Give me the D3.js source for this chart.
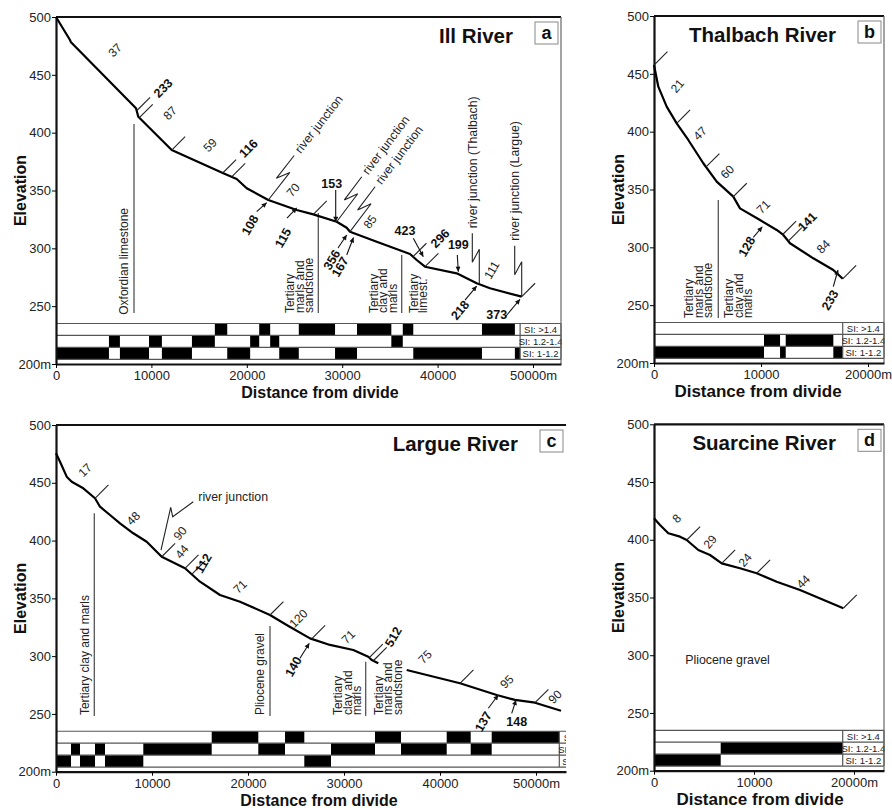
<!DOCTYPE html>
<html><head><meta charset="utf-8">
<script src="https://cdn.jsdelivr.net/npm/d3@7"></script>
<style>
body{margin:0;background:#fff;}
svg{display:block;}
</style></head><body>
<svg id="chart" width="892" height="808"></svg>
<script>
// ================= DATA =================
const yTicks = [200, 250, 300, 350, 400, 450, 500];
const siLabels = ["SI: 1-1.2", "SI: 1.2-1.4", "SI: >1.4"];
const siRowEdges = [235, 224.67, 214.33, 204];

// ---- Panel a : Ill River ----
const xTicksA = [0, 10000, 20000, 30000, 40000, 50000];
const profileA_dist = [0,1468,1572,8386,8627,12128,17537,18941,19990,22254,25231,26971,29423,30472,30818,33616,37107,37809,38679,42002,44099,45493,48816];
const profileA_elev = [500,480.1,478.1,421.1,413.8,385.0,364.9,359.9,351.9,341.8,333.1,329.4,323.0,317.8,314.4,305.7,295.1,289.9,284.1,278.4,269.8,265.5,258.2];
const siA_breaks = [0,5550,6700,9750,11100,14250,16650,17950,20350,21300,22450,23400,25450,29250,31550,35150,36350,37450,44650,48100,48650];
const siA_class  = [1,2,1,2,1,2,3,1,2,3,2,1,3,1,3,2,3,1,3,1];
const ticksA = [8457, 8732, 12128, 17474, 18417, 26971, 37421, 38679, 48816];
const segA = [
  {t:"37", d:6184, e:471.5, r:-45}, {t:"87", d:11950, e:417, r:-45}, {t:"59", d:16143, e:389.3, r:-45},
  {t:"70", d:24843, e:350.4, r:-50}, {t:"85", d:32914, e:323, r:-55}, {t:"111", d:45671, e:281.3, r:-60}];
const knickA = [
  {t:"233", d:11216, e:438.6, r:-45}, {t:"116", d:20161, e:386.5, r:-45}, {t:"108", d:20335, e:320.2, r:-60},
  {t:"115", d:23795, e:309.1, r:-60}, {t:"153", d:28899, e:355.6, r:0}, {t:"356", d:28899, e:290, r:-60},
  {t:"167", d:29769, e:284.1, r:-60}, {t:"423", d:36583, e:315.2, r:0}, {t:"296", d:40252, e:308.7, r:-45},
  {t:"199", d:42170, e:303, r:0}, {t:"218", d:42348, e:246.7, r:-50}, {t:"373", d:46195, e:242.4, r:0}];
const arrowsA = [
  [21038,331.7,22086,339.5],[24214,326.2,25231,334.9],[29319,350.4,29319,323],[29560,300.3,30472,311.5],
  [30472,294.2,31184,309.4],[37453,308.7,38501,292.8],[42065,294.2,42170,279.8],[42872,255.3,44099,267.4],
  [47065,240.4,48637,256]];
const junctionsA = [
  {d:22254, ang:-52, t:"river junction"}, {d:29423, ang:-53, t:"river junction"},
  {d:30818, ang:-53, t:"river junction"}, {d:44371, ang:-90, t:"river junction (Thalbach)"},
  {d:48816, ang:-90, t:"river junction (Largue)"}];
const geoLinesA = [{d:8176, e1:407.5, e2:244.1}, {d:27495, e1:330.6, e2:244.1}, {d:36237, e1:294.2, e2:244.1}];
const geoLabelsA = [
  {lines:["Oxfordian limestone"], d:7128, e:242.6}, {lines:["Tertiary","marls and","sandstone"], d:24528, e:244},
  {lines:["Tertiary","clay and","marls"], d:33260, e:244}, {lines:["Tertiary","limest."], d:37453, e:244}];

// ---- Panel b : Thalbach River ----
const xTicksB = [0, 10000, 20000];
const profileB_dist = [0,402,1187,2121,3206,4607,5860,7411,8037,9907,11467,12084,12710,14888,16757,17636];
const profileB_elev = [457.6,438.9,421.6,407.2,392.8,372.7,356.8,343.8,333.7,323.6,315.0,310.7,303.5,290.5,280.4,272.8];
const siB_breaks = [0,10280,11780,12310,16760,17636];
const siB_class  = [1,2,1,2,1];
const ticksB = [0, 2121, 4860, 7411, 12028, 12551, 17636];
const segB = [
  {t:"21", d:2178, e:439.5, r:-50}, {t:"47", d:4299, e:398.6, r:-45}, {t:"60", d:6850, e:365.4, r:-45},
  {t:"71", d:10215, e:335.1, r:-45}, {t:"84", d:15822, e:300.6, r:-45}];
const knickB = [{t:"141", d:14327, e:322.2, r:-45}, {t:"128", d:8664, e:300.6, r:-60}, {t:"233", d:16449, e:254.5, r:-60}];
const arrowsB = [[9280,308.7,10121,317.8],[16757,266,17196,280.4]];
const geoLinesB = [{d:6009, e1:340.9, e2:238.8}];
const geoLabelsB = [{lines:["Tertiary","marls and","sandstone"], d:3271, e:238.8}, {lines:["Tertiary","clay and","marls"], d:7009, e:238.8}];

// ---- Panel c : Largue River ----
const xTicksC = [0, 10000, 20000, 30000, 40000, 50000];
const profileC_dist = [0,417,1115,1635,2844,4063,4583,5625,6667,8052,9448,10490,11010,13438,15000,17083,19167,22292,24031,26458,28542,30969,32531,32885,33573,35000,36531,42083,45906,47813,49896,52604];
const profileC_elev = [475.5,468.2,455.3,450.9,445.2,436.6,429.3,422.1,414.9,406.3,399.0,390.4,386.0,376.0,364.4,352.9,347.1,335.6,327.0,315.4,309.7,305.3,299.5,296.7,293.8,null,288.0,276.5,266.4,262.1,259.7,252.8];
const siC_breaks = [0,1563,2500,4063,5104,9094,16219,21073,23854,25865,28646,33229,35937,40698,43198,45385,52427];
const siC_class  = [1,2,1,2,1,2,3,2,3,1,2,3,2,3,2,3];
const ticksC = [4063, 11010, 13438, 14135, 22292, 26635, 32635, 33052, 42083, 49896];
const segC = [
  {t:"17", d:3021, e:461.1, r:-45}, {t:"48", d:8052, e:419.3, r:-45}, {t:"90", d:12917, e:406.3, r:-50},
  {t:"44", d:13094, e:390.4, r:-50}, {t:"71", d:19167, e:360.1, r:-45}, {t:"120", d:25240, e:332.7, r:-45},
  {t:"71", d:30448, e:316.8, r:-45}, {t:"75", d:38438, e:299.5, r:-45}, {t:"95", d:46948, e:277.9, r:-45},
  {t:"90", d:51979, e:264.9, r:-45}];
const knickC = [
  {t:"112", d:15344, e:380.3, r:-60}, {t:"512", d:35135, e:316.8, r:-60}, {t:"140", d:24719, e:290.9, r:-60},
  {t:"137", d:44510, e:243.3, r:-60}, {t:"148", d:47990, e:243.3, r:0}];
const arrowsC = [[25417,298.1,26385,311.1],[45031,254.9,46073,266.4],[47469,250.5,47917,262]];
const junctionPathC = [[10938,391.8],[11948,428.7],[12156,420.6],[14302,433.6]];
const junctionTextC = {t:"river junction", d:14823, e:438};
const geoLinesC = [{d:3990, e1:423.6, e2:248.2}, {d:22292, e1:326.1, e2:248.2}, {d:32260, e1:295.2, e2:248.2}];
const geoLabelsC = [
  {lines:["Tertiary clay and marls"], d:3021, e:249}, {lines:["Pliocene gravel"], d:21177, e:249},
  {lines:["Tertiary","clay and","marls"], d:29375, e:249}, {lines:["Tertiary","marls and","sandstone"], d:33594, e:249}];

// ---- Panel d : Suarcine River ----
const xTicksD = [0, 10000, 20000];
const profileD_dist = [0,600,1430,2600,3270,4430,5600,6770,8600,10270,12270,14600,18930];
const profileD_elev = [418.6,412.8,405.6,402.7,399.8,391.1,386.8,379.6,375.3,371.0,363.7,356.5,340.7];
const siD_breaks = [0,6670,18870];
const siD_class  = [1,2];
const ticksD = [3270, 6770, 10270, 18930];
const segD = [{t:"8", d:2270, e:418.6, r:-45}, {t:"29", d:5600, e:398.3, r:-50}, {t:"24", d:9100, e:382.5, r:-50}, {t:"44", d:14930, e:363.7, r:-45}];
const geoTextD = [{t:"Pliocene gravel", d:7350, e:295.9}];

// ================= DRAWING =================
const FONT = "'Liberation Sans', Arial, Helvetica, sans-serif";
const svg = d3.select("#chart").attr("font-family", FONT);
const defs = svg.append("defs");
defs.append("marker").attr("id","arr").attr("viewBox","0 0 10 10").attr("refX",10).attr("refY",5)
  .attr("markerWidth",7).attr("markerHeight",5).attr("markerUnits","userSpaceOnUse").attr("orient","auto")
  .append("path").attr("d","M0,0L10,5L0,10z").attr("fill","#111");

const panels = [
  {letter:"a", title:"Ill River", left:56, top:17, right:561, bottom:364, xMax:52935, boxRight:561, clipRight:562, border:true,
   xTicks:xTicksA, dist:profileA_dist, elev:profileA_elev, siB:siA_breaks, siC:siA_class, ticks:ticksA, seg:segA, knick:knickA,
   arrows:arrowsA, junctions:junctionsA, geoLines:geoLinesA, geoLabels:geoLabelsA, xlabX:320, xlabSize:16},
  {letter:"b", title:"Thalbach River", left:654, top:16, right:884, bottom:363, xMax:21495, boxRight:884, clipRight:885, border:true,
   xTicks:xTicksB, dist:profileB_dist, elev:profileB_elev, siB:siB_breaks, siC:siB_class, ticks:ticksB, seg:segB, knick:knickB,
   arrows:arrowsB, junctions:[], geoLines:geoLinesB, geoLabels:geoLabelsB, xlabX:758, xlabSize:17},
  {letter:"c", title:"Largue River", left:56, top:425, right:566, bottom:771.7, xMax:53125, boxRight:601, clipRight:566, border:false,
   xTicks:xTicksC, dist:profileC_dist, elev:profileC_elev, siB:siC_breaks, siC:siC_class, ticks:ticksC, seg:segC, knick:knickC,
   arrows:arrowsC, junctions:[], jpath:junctionPathC, jtext:junctionTextC, geoLines:geoLinesC, geoLabels:geoLabelsC, xlabX:319, xlabSize:16},
  {letter:"d", title:"Suarcine River", left:654, top:424.3, right:884, bottom:770.7, xMax:23000, boxRight:884, clipRight:885, border:true,
   xTicks:xTicksD, dist:profileD_dist, elev:profileD_elev, siB:siD_breaks, siC:siD_class, ticks:ticksD, seg:segD, knick:[],
   arrows:[], junctions:[], geoLines:[], geoLabels:[], geoText:geoTextD, xlabX:760, xlabSize:17}
];

panels.forEach(drawPanel);

function drawPanel(P){
  const g = svg.append("g");
  const x = d3.scaleLinear().domain([0, P.xMax]).range([P.left, P.right]);
  const y = d3.scaleLinear().domain([200, 500]).range([P.bottom, P.top]);
  const pts = P.dist.map((d,i)=>({d, e:P.elev[i]}));
  const valid = pts.filter(p=>p.e!=null);
  const elevAt = d3.scaleLinear().domain(valid.map(p=>p.d)).range(valid.map(p=>p.e)).clamp(true);

  const clipId = "clip" + P.letter;
  defs.append("clipPath").attr("id", clipId).append("rect")
    .attr("x", P.left - 60).attr("y", P.top - 10).attr("width", P.clipRight - P.left + 60).attr("height", P.bottom - P.top + 60);
  const cg = g.append("g").attr("clip-path", `url(#${clipId})`);

  // ---- SI band ----
  const barEnd = P.siB[P.siB.length-1];
  const segs = P.siC.map((c,i)=>({x0:P.siB[i], x1:P.siB[i+1], c}));
  cg.selectAll("rect.si").data(segs).join("rect").attr("class","si")
    .attr("x", s=>x(s.x0)).attr("width", s=>x(s.x1)-x(s.x0))
    .attr("y", s=>y(siRowEdges[3-s.c])).attr("height", s=>y(siRowEdges[4-s.c]) - y(siRowEdges[3-s.c]))
    .attr("fill", "#000");
  cg.selectAll("line.band").data(siRowEdges).join("line").attr("class","band")
    .attr("x1", P.left).attr("x2", P.boxRight).attr("y1", e=>y(e)).attr("y2", e=>y(e))
    .attr("stroke", "#555").attr("stroke-width", 1.2);
  cg.append("line").attr("x1", x(barEnd)).attr("x2", x(barEnd)).attr("y1", y(siRowEdges[0])).attr("y2", y(siRowEdges[3]))
    .attr("stroke", "#555").attr("stroke-width", 1.2);
  cg.append("line").attr("x1", P.boxRight).attr("x2", P.boxRight).attr("y1", y(siRowEdges[0])).attr("y2", y(siRowEdges[3]))
    .attr("stroke", "#555").attr("stroke-width", 1.2);
  const lx = (x(barEnd) + P.boxRight) / 2;
  cg.selectAll("text.sil").data(siLabels).join("text").attr("class","sil")
    .attr("x", lx).attr("y", (t,i)=>(y(siRowEdges[3-i]) + y(siRowEdges[2-i]))/2)
    .attr("dy","0.36em").attr("text-anchor","middle").attr("font-size", 9.5).attr("fill","#222").text(t=>t);

  // ---- frame ----
  g.append("line").attr("x1", P.left).attr("x2", P.right).attr("y1", y(500)).attr("y2", y(500))
    .attr("stroke","#111").attr("stroke-width",2.2);
  if (P.border) g.append("line").attr("x1", P.right).attr("x2", P.right).attr("y1", y(500)).attr("y2", y(200))
    .attr("stroke","#666").attr("stroke-width",1.2);

  // ---- axes ----
  const ya = g.append("g").attr("transform",`translate(${P.left},0)`)
    .call(d3.axisLeft(y).tickValues(yTicks).tickSize(4).tickSizeOuter(0).tickPadding(1).tickFormat(v=>v===200?"200m":v));
  ya.attr("font-family", FONT).attr("font-size", 13);
  ya.select(".domain").attr("stroke","#111").attr("stroke-width",2.2);
  ya.selectAll("text").attr("fill","#222");
  const last = P.xTicks[P.xTicks.length-1];
  const xa = g.append("g").attr("transform",`translate(0,${P.bottom})`)
    .call(d3.axisBottom(x).tickValues(P.xTicks).tickSize(4).tickSizeOuter(0).tickPadding(3).tickFormat(v=>v===last? v+"m" : v));
  xa.attr("font-family", FONT).attr("font-size", 13);
  xa.select(".domain").attr("stroke","#111").attr("stroke-width",2.2);
  xa.selectAll("text").attr("fill","#222");

  g.append("text").attr("transform",`translate(${P.left-36},${(P.top+P.bottom)/2}) rotate(-90)`)
    .attr("text-anchor","middle").attr("dy","0.35em").attr("font-weight","bold").attr("font-size",16).attr("fill","#111").text("Elevation");
  g.append("text").attr("x", P.xlabX).attr("y", P.bottom + 34).attr("text-anchor","middle")
    .attr("font-weight","bold").attr("font-size",P.xlabSize).attr("fill","#111").text("Distance from divide");

  // title + letter box
  g.append("text").attr("x", P.right-48).attr("y", P.top+26).attr("text-anchor","end")
    .attr("font-weight","bold").attr("font-size",20.5).attr("fill","#111").text(P.title);
  g.append("rect").attr("x", P.right-26).attr("y", P.top+5).attr("width",23).attr("height",22)
    .attr("fill","#fff").attr("stroke","#888").attr("stroke-width",1);
  g.append("text").attr("x", P.right-14.5).attr("y", P.top+22).attr("text-anchor","middle")
    .attr("font-weight","bold").attr("font-size",18).attr("fill","#111").text(P.letter);

  // ---- geology ----
  g.selectAll("line.geo").data(P.geoLines).join("line").attr("class","geo")
    .attr("x1", v=>x(v.d)).attr("x2", v=>x(v.d)).attr("y1", v=>y(v.e1)).attr("y2", v=>y(v.e2))
    .attr("stroke","#555").attr("stroke-width",1.3);
  P.geoLabels.forEach(L=>{
    const t = g.append("text").attr("transform",`translate(${x(L.d)},${y(L.e)}) rotate(-90)`)
      .attr("text-anchor","start").attr("font-size",12).attr("fill","#222");
    L.lines.forEach((ln,i)=>t.append("tspan").attr("x",0).attr("dy", i===0 ? "0.35em" : 9.6).text(ln));
  });
  (P.geoText||[]).forEach(L=>{
    g.append("text").attr("x", x(L.d)).attr("y", y(L.e)).attr("dy","0.35em").attr("text-anchor","middle")
      .attr("font-size",12.4).attr("fill","#222").text(L.t);
  });

  // ---- profile ----
  g.append("path").datum(pts)
    .attr("d", d3.line().defined(p=>p.e!=null).x(p=>x(p.d)).y(p=>y(p.e)))
    .attr("fill","none").attr("stroke","#000").attr("stroke-width",2.2).attr("stroke-linejoin","round");

  // ticks along profile
  const ta = -45*Math.PI/180, tl = 19;
  g.selectAll("line.tk").data(P.ticks).join("line").attr("class","tk")
    .attr("x1", d=>x(d)).attr("y1", d=>y(elevAt(d)))
    .attr("x2", d=>x(d)+tl*Math.cos(ta)).attr("y2", d=>y(elevAt(d))+tl*Math.sin(ta))
    .attr("stroke","#222").attr("stroke-width",1.1);

  // labels
  g.selectAll("text.seg").data(P.seg).join("text").attr("class","seg")
    .attr("transform", s=>`translate(${x(s.d)},${y(s.e)}) rotate(${s.r})`)
    .attr("text-anchor","middle").attr("dy","0.35em").attr("font-size",12).attr("fill","#222").text(s=>s.t);
  g.selectAll("text.kn").data(P.knick).join("text").attr("class","kn")
    .attr("transform", s=>`translate(${x(s.d)},${y(s.e)}) rotate(${s.r})`)
    .attr("text-anchor","middle").attr("dy","0.35em").attr("font-size",12.5).attr("font-weight","bold").attr("fill","#111").text(s=>s.t);

  // arrows
  g.selectAll("line.ar").data(P.arrows).join("line").attr("class","ar")
    .attr("x1", a=>x(a[0])).attr("y1", a=>y(a[1])).attr("x2", a=>x(a[2])).attr("y2", a=>y(a[3]))
    .attr("stroke","#111").attr("stroke-width",1.1).attr("marker-end","url(#arr)");

  // river junction symbols
  P.junctions.forEach(J=>{
    const th = J.ang*Math.PI/180;
    const u = [Math.cos(th), Math.sin(th)], n = [Math.sin(th), -Math.cos(th)];
    const p0 = [x(J.d), y(elevAt(J.d))];
    const L1 = 35, ov = 13, off = 7, L2 = 29;
    const A = [p0[0]+u[0]*L1, p0[1]+u[1]*L1];
    const B = [A[0]-u[0]*ov+n[0]*off, A[1]-u[1]*ov+n[1]*off];
    const C = [B[0]+u[0]*L2, B[1]+u[1]*L2];
    g.append("path").attr("d", d3.line()([p0,A,B,C])).attr("fill","none").attr("stroke","#222").attr("stroke-width",1.1);
    const T = [C[0]+u[0]*5, C[1]+u[1]*5];
    g.append("text").attr("transform",`translate(${T[0]},${T[1]}) rotate(${J.ang})`)
      .attr("text-anchor","start").attr("dy","0.35em").attr("font-size",12.3).attr("fill","#222").text(J.t);
  });
  if (P.jpath){
    g.append("path").attr("d", d3.line().x(p=>x(p[0])).y(p=>y(p[1]))(P.jpath))
      .attr("fill","none").attr("stroke","#222").attr("stroke-width",1.1);
    g.append("text").attr("x", x(P.jtext.d)).attr("y", y(P.jtext.e)).attr("dy","0.35em")
      .attr("font-size",12.3).attr("fill","#222").text(P.jtext.t);
  }
}
</script>
</body></html>
